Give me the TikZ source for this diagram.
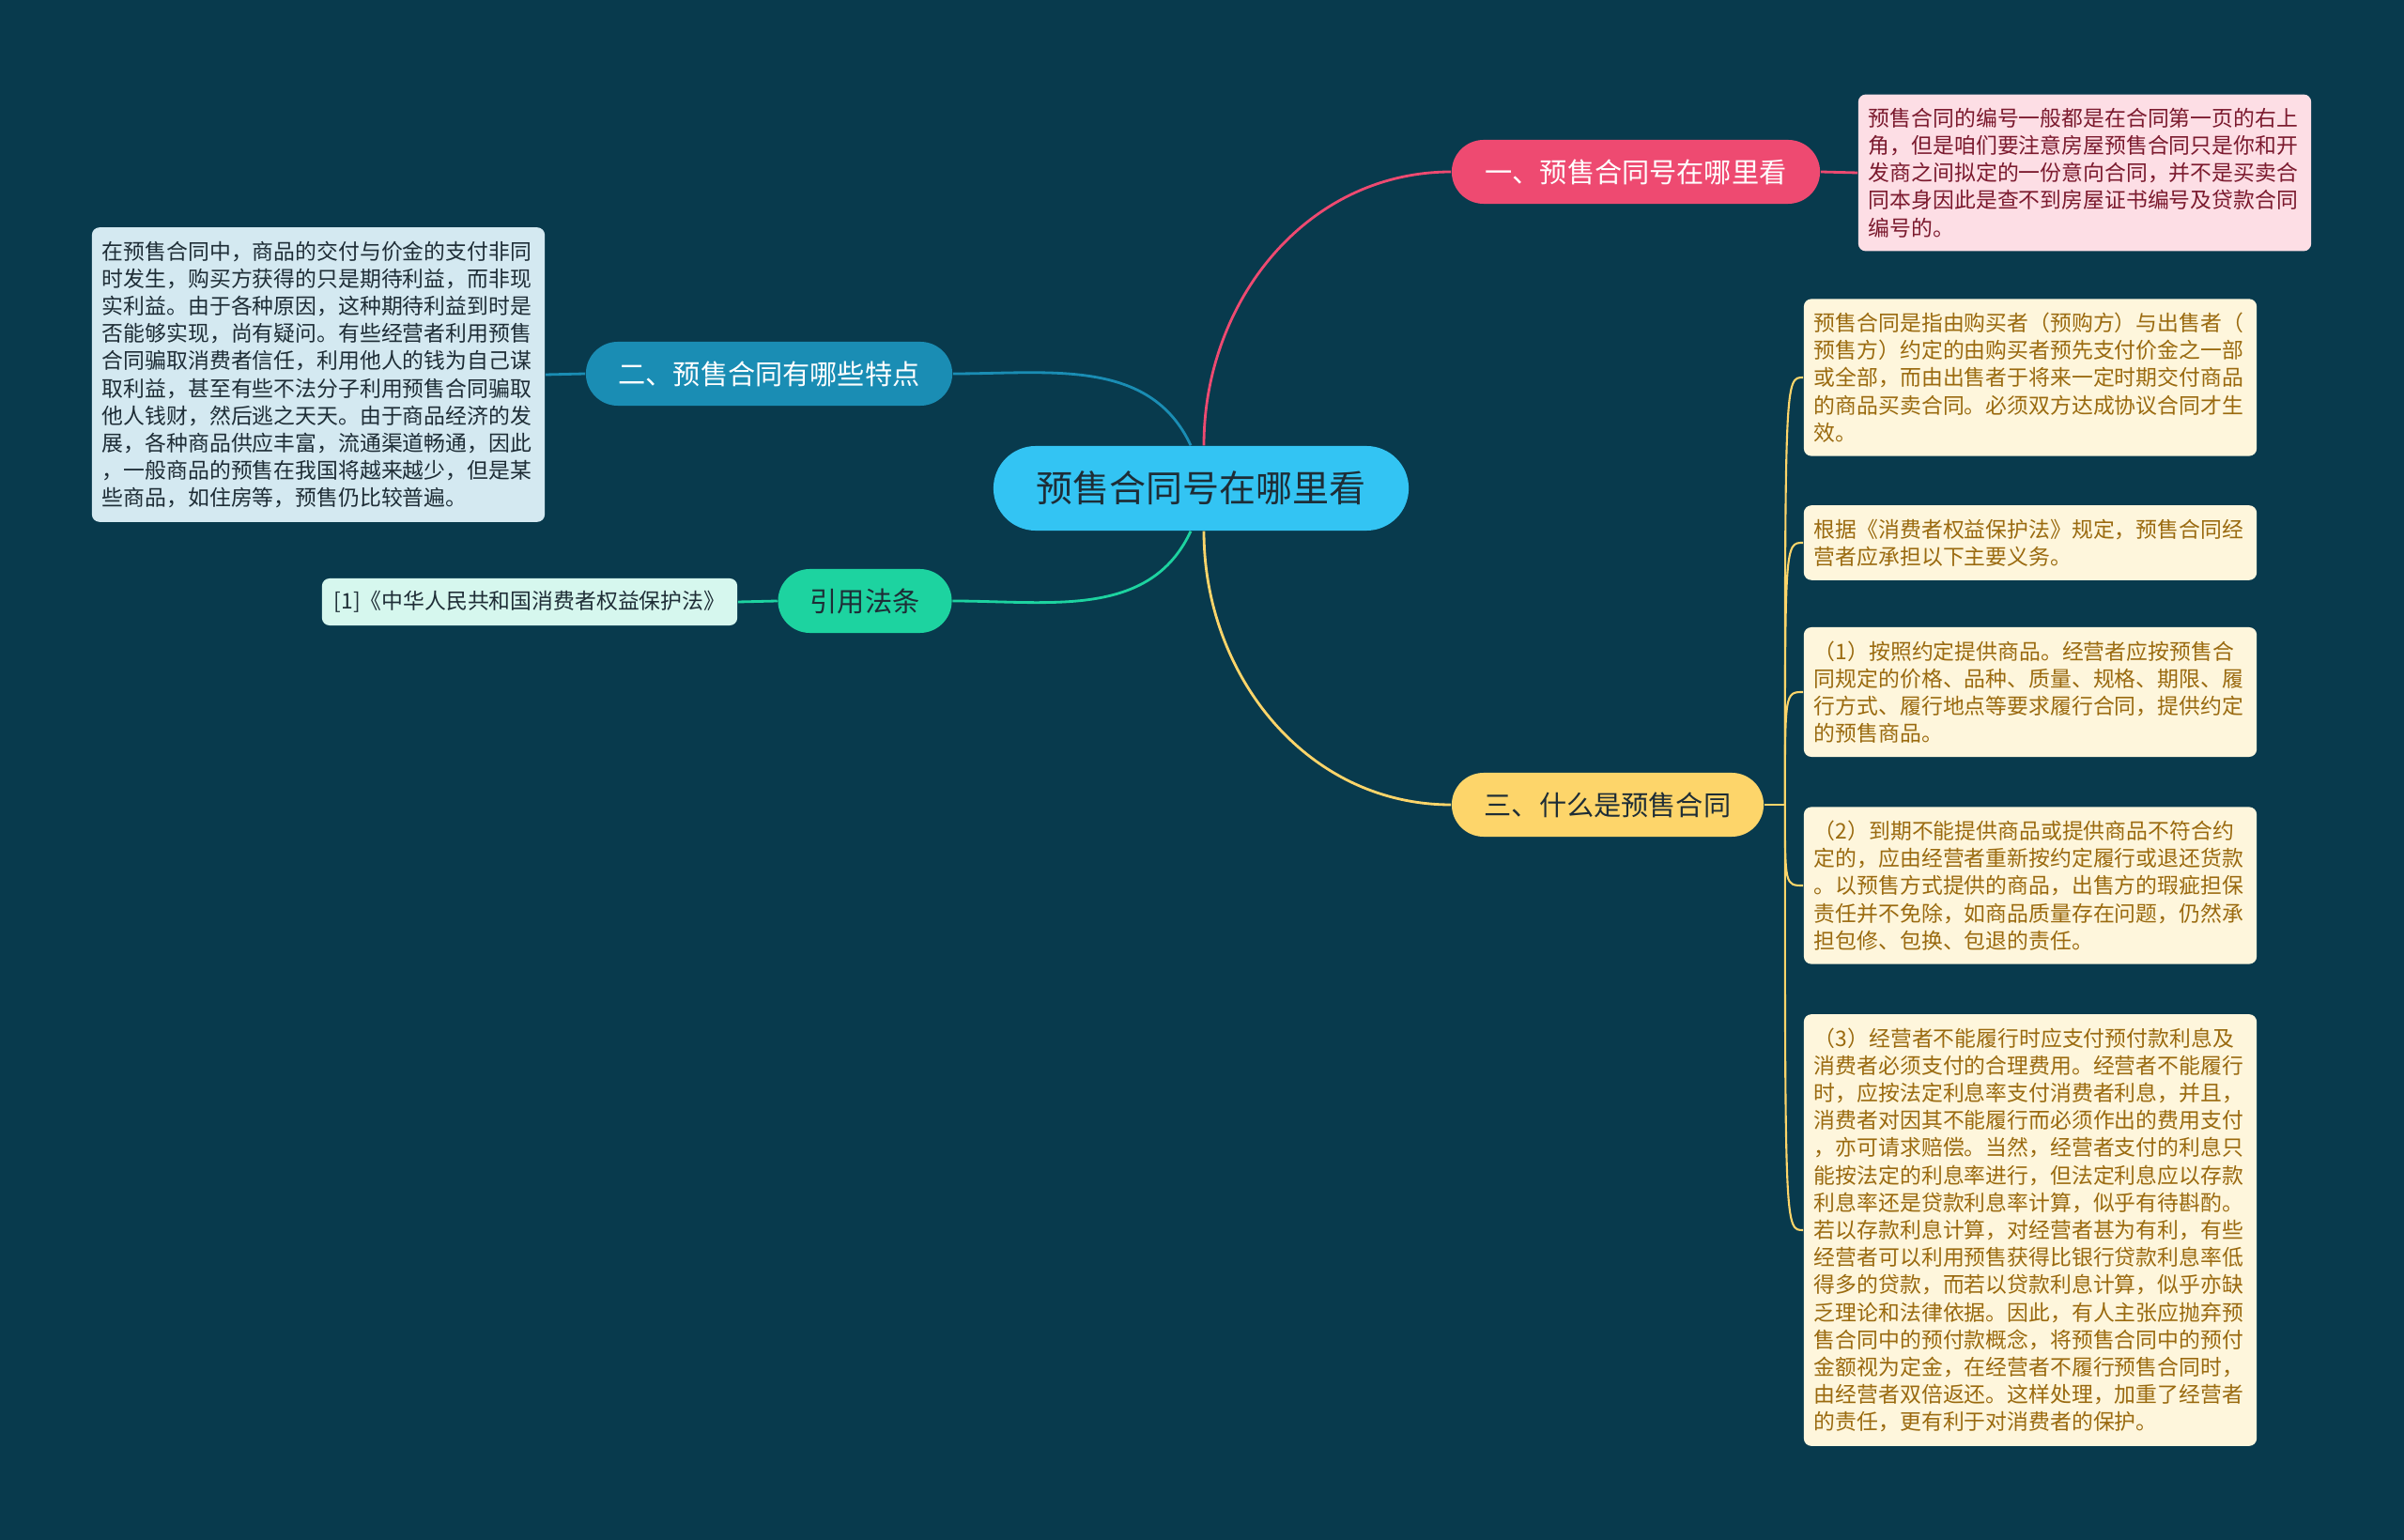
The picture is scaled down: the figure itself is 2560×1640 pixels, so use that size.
\documentclass[tikz,border=0pt]{standalone}
\usepackage{fontspec}
\setmainfont{Noto Sans CJK SC}
\usetikzlibrary{positioning}
\definecolor{bgcol}{HTML}{083A4D}
\definecolor{rootcol}{HTML}{33C4F3}
\definecolor{pinkcol}{HTML}{EE4A71}
\definecolor{pinkleaf}{HTML}{FDDEE5}
\definecolor{pinktext}{HTML}{7B1A2E}
\definecolor{bluecol}{HTML}{1A8DB4}
\definecolor{blueleaf}{HTML}{D4E9F1}
\definecolor{greencol}{HTML}{1DD3A0}
\definecolor{greenleaf}{HTML}{D6F7EE}
\definecolor{yellowcol}{HTML}{FDD56A}
\definecolor{yellowleaf}{HTML}{FEF6DC}
\definecolor{yellowtext}{HTML}{9A6A0F}
\definecolor{darktext}{HTML}{1E2D36}

\begin{document}
\begin{tikzpicture}[x=0.01cm,y=-0.01cm,
    root/.style={fill=rootcol, text=darktext, rounded corners=0.45cm, minimum width=4.42cm,
        minimum height=0.9cm, inner sep=0pt, font=\fontsize{11.1}{13}\selectfont},
    topic/.style={fill=#1, rounded corners=0.34cm, minimum height=0.68cm, inner sep=0pt,
        font=\fontsize{8.3}{10}\selectfont},
    leaf/.style={fill=#1, rounded corners=0.08cm, text width=4.6cm, align=left,
        inner xsep=0.11cm, inner ysep=0.145cm, font=\fontsize{6.5}{8.3}\selectfont},
    link/.style={draw=#1, line width=0.8pt}]
    \useasboundingbox (0,0) rectangle (2560,1640);
    \fill[bgcol] (0,0) rectangle (2560,1640);

    \node[root] (root) at (1279,520) {预售合同号在哪里看};

    \node[topic=pinkcol, text=white, minimum width=3.92cm] (b1) at (1742,183) {一、预售合同号在哪里看};
    \node[topic=bluecol, text=white, minimum width=3.90cm] (b2) at (819,398) {二、预售合同有哪些特点};
    \node[topic=greencol, text=darktext, minimum width=1.85cm] (b3) at (921,640) {引用法条};
    \node[topic=yellowcol, text=darktext, minimum width=3.32cm] (b4) at (1712,857) {三、什么是预售合同};

    \node[leaf=pinkleaf, text=pinktext] (l1) at (2220,184) {预售合同的编号一般都是在合同第一页的右上\\
        角，但是咱们要注意房屋预售合同只是你和开\\
        发商之间拟定的一份意向合同，并不是买卖合\\
        同本身因此是查不到房屋证书编号及贷款合同\\
        编号的。};
    \node[leaf=blueleaf, text=darktext] (l2) at (339,399) {在预售合同中，商品的交付与价金的支付非同\\
        时发生，购买方获得的只是期待利益，而非现\\
        实利益。由于各种原因，这种期待利益到时是\\
        否能够实现，尚有疑问。有些经营者利用预售\\
        合同骗取消费者信任，利用他人的钱为自己谋\\
        取利益，甚至有些不法分子利用预售合同骗取\\
        他人钱财，然后逃之天天。由于商品经济的发\\
        展，各种商品供应丰富，流通渠道畅通，因此\\
        ，一般商品的预售在我国将越来越少，但是某\\
        些商品，如住房等，预售仍比较普遍。};
    \node[fill=greenleaf, text=darktext, rounded corners=0.08cm, minimum width=4.42cm, minimum height=0.5cm,
        inner sep=0pt, font=\fontsize{6.5}{8.3}\selectfont] (l3) at (564,641) {[1]《中华人民共和国消费者权益保护法》};

    \node[leaf=yellowleaf, text=yellowtext] (y1) at (2162,402) {预售合同是指由购买者（预购方）与出售者（\\
        预售方）约定的由购买者预先支付价金之一部\\
        或全部，而由出售者于将来一定时期交付商品\\
        的商品买卖合同。必须双方达成协议合同才生\\
        效。};
    \node[leaf=yellowleaf, text=yellowtext] (y2) at (2162,578) {根据《消费者权益保护法》规定，预售合同经\\
        营者应承担以下主要义务。};
    \node[leaf=yellowleaf, text=yellowtext] (y3) at (2162,737) {（1）按照约定提供商品。经营者应按预售合\\
        同规定的价格、品种、质量、规格、期限、履\\
        行方式、履行地点等要求履行合同，提供约定\\
        的预售商品。};
    \node[leaf=yellowleaf, text=yellowtext] (y4) at (2162,943) {（2）到期不能提供商品或提供商品不符合约\\
        定的，应由经营者重新按约定履行或退还货款\\
        。以预售方式提供的商品，出售方的瑕疵担保\\
        责任并不免除，如商品质量存在问题，仍然承\\
        担包修、包换、包退的责任。};
    \node[leaf=yellowleaf, text=yellowtext] (y5) at (2162,1310) {（3）经营者不能履行时应支付预付款利息及\\
        消费者必须支付的合理费用。经营者不能履行\\
        时，应按法定利息率支付消费者利息，并且，\\
        消费者对因其不能履行而必须作出的费用支付\\
        ，亦可请求赔偿。当然，经营者支付的利息只\\
        能按法定的利息率进行，但法定利息应以存款\\
        利息率还是贷款利息率计算，似乎有待斟酌。\\
        若以存款利息计算，对经营者甚为有利，有些\\
        经营者可以利用预售获得比银行贷款利息率低\\
        得多的贷款，而若以贷款利息计算，似乎亦缺\\
        乏理论和法律依据。因此，有人主张应抛弃预\\
        售合同中的预付款概念，将预售合同中的预付\\
        金额视为定金，在经营者不履行预售合同时，\\
        由经营者双倍返还。这样处理，加重了经营者\\
        的责任，更有利于对消费者的保护。};

    \draw[link=pinkcol] ([xshift=0.03cm]root.north) to[out=90, in=180] (b1.west);
    \draw[link=bluecol] ([xshift=-0.11cm]root.north) to[out=115, in=0] (b2.east);
    \draw[link=greencol] ([xshift=-0.11cm]root.south) to[out=-115, in=0] (b3.east);
    \draw[link=yellowcol] ([xshift=0.03cm]root.south) to[out=-90, in=180] (b4.west);

    \draw[link=pinkcol] (b1.east) -- (l1.west);
    \draw[link=bluecol] (b2.west) -- (l2.east);
    \draw[link=greencol] (b3.west) -- (l3.east);

    \coordinate[right=0.22cm of b4] (fan);
    \draw[link=yellowcol] (b4.east) -- (fan);
    \foreach \n in {y1,y2,y3,y4,y5}
        \draw[link=yellowcol, line width=0.6pt] (fan) .. controls (fan |- \n.west) .. (\n.west);
\end{tikzpicture}
\end{document}
